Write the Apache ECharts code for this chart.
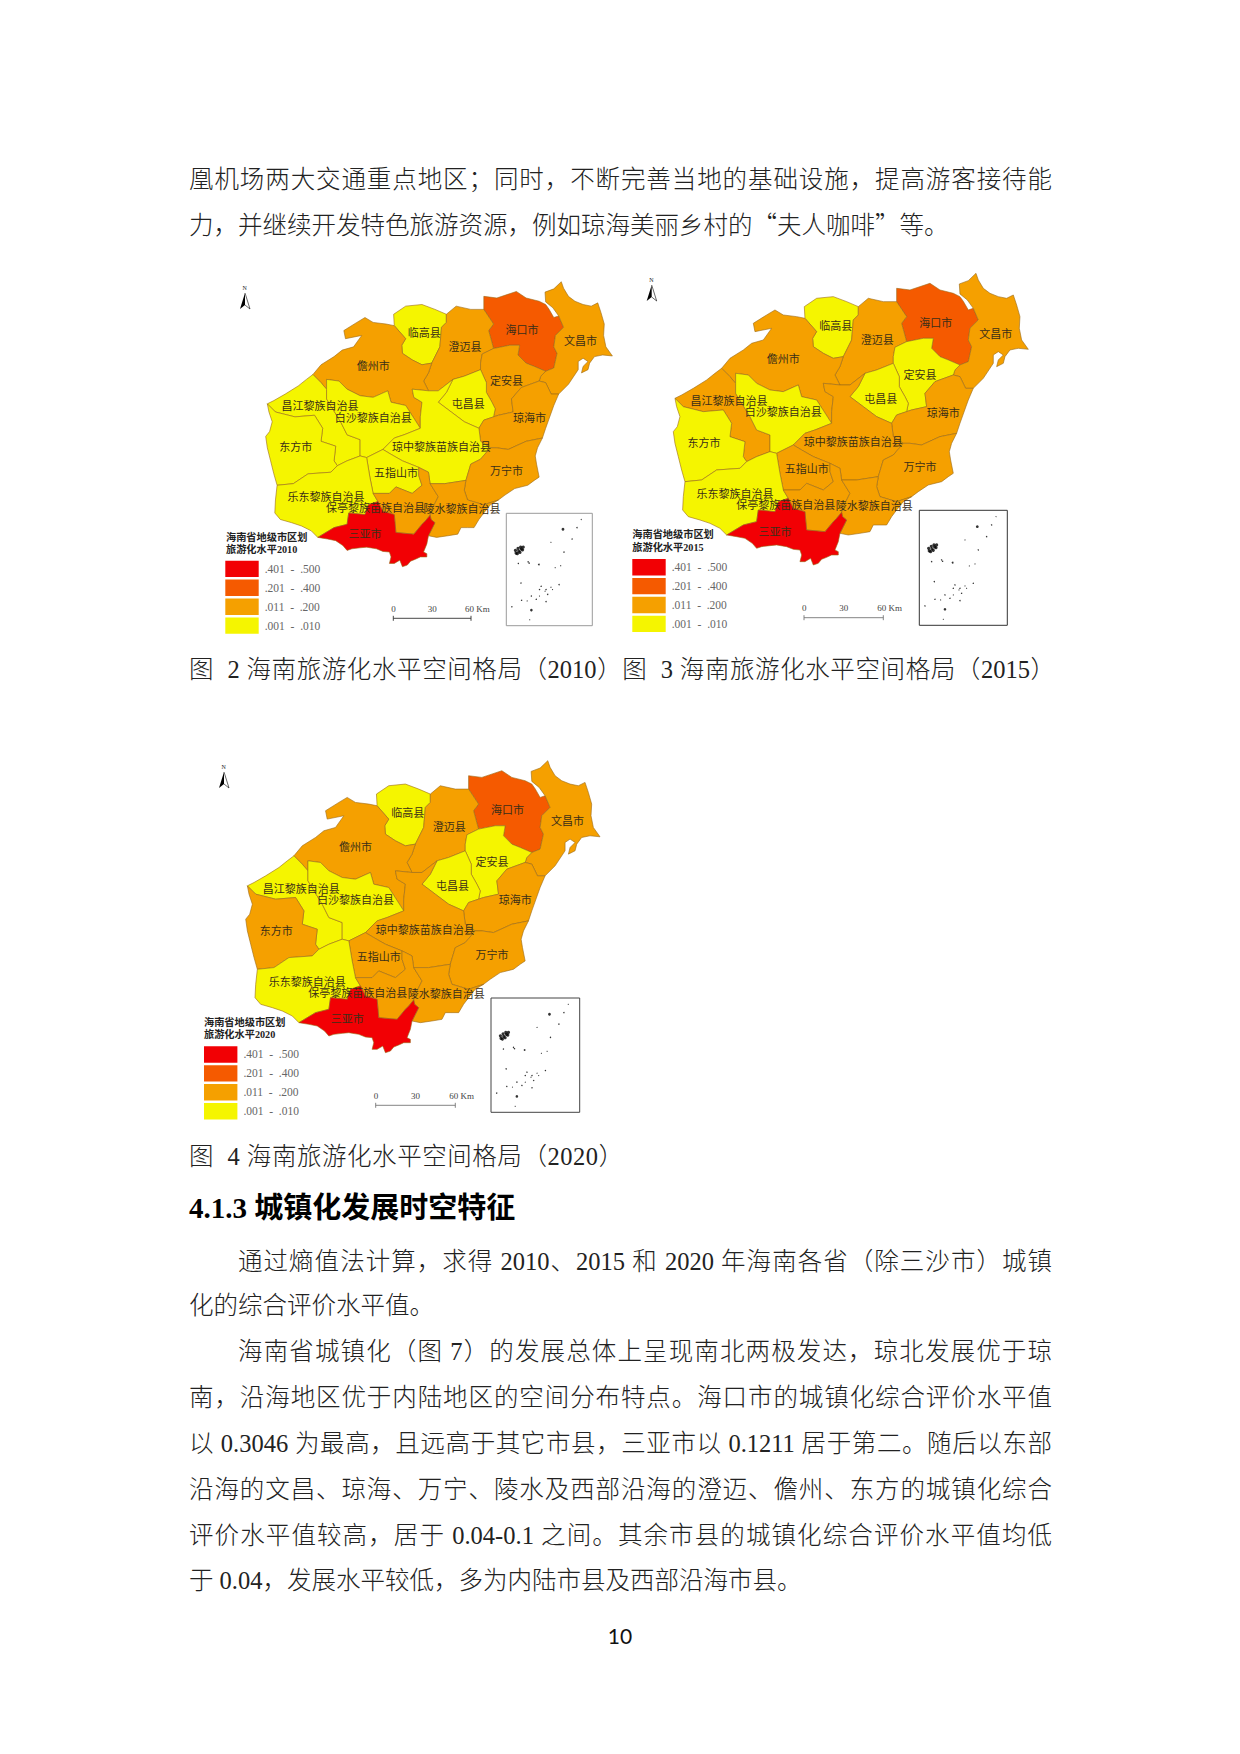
<!DOCTYPE html>
<html lang="zh-CN">
<head>
<meta charset="utf-8">
<title>海南旅游化水平空间格局</title>
<script src="https://cdn.jsdelivr.net/npm/echarts@6/dist/echarts.min.js"></script>
<style>
  html, body { margin: 0; padding: 0; background: #fff; }
  #page { position: relative; width: 1240px; height: 1754px; overflow: hidden; }
  #chart { position: absolute; left: 0; top: 0; width: 1240px; height: 1754px; }
  .line {
    position: absolute; left: 189px; width: 863px; height: 34px; line-height: 34px;
    font-family: "Liberation Serif", "Noto Sans CJK SC", serif; font-size: 24.5px; font-weight: 300; color: #222;
    white-space: nowrap;
  }
  .fill { white-space: normal; text-align: justify; text-align-last: justify; }
  .indent { left: 238px; width: 814px; }
  .head { font-size: 29px; font-weight: bold; color: #000; }
  .num { font-family: Lato, sans-serif; font-size: 21px; font-weight: 400; left: 0; width: 1240px; text-align: center; color: #111; }
  .cjk { font-family: "Noto Sans CJK SC", sans-serif; }
</style>
</head>
<body>
<div id="page">
  <div id="chart"></div>
  <div class="line fill" style="top:163px">凰机场两大交通重点地区；同时，不断完善当地的基础设施，提高游客接待能</div>
  <div class="line" style="top:207px">力，并继续开发特色旅游资源，例如琼海美丽乡村的<span class="cjk">“</span>夫人咖啡<span class="cjk">”</span>等。</div>
  <div class="line fill" style="top:653px;width:866px">图&nbsp; 2 海南旅游化水平空间格局（2010）图&nbsp; 3 海南旅游化水平空间格局（2015）</div>
  <div class="line" style="top:1140px;letter-spacing:.55px">图&nbsp; 4 海南旅游化水平空间格局（2020）</div>
  <div class="line head" style="top:1191px">4.1.3 城镇化发展时空特征</div>
  <div class="line fill indent" style="top:1245px">通过熵值法计算，求得 2010、2015 和 2020 年海南各省（除三沙市）城镇</div>
  <div class="line" style="top:1289px">化的综合评价水平值。</div>
  <div class="line fill indent" style="top:1335px">海南省城镇化（图 7）的发展总体上呈现南北两极发达，琼北发展优于琼</div>
  <div class="line fill" style="top:1381px">南，沿海地区优于内陆地区的空间分布特点。海口市的城镇化综合评价水平值</div>
  <div class="line fill" style="top:1427px">以 0.3046 为最高，且远高于其它市县，三亚市以 0.1211 居于第二。随后以东部</div>
  <div class="line fill" style="top:1473px">沿海的文昌、琼海、万宁、陵水及西部沿海的澄迈、儋州、东方的城镇化综合</div>
  <div class="line fill" style="top:1519px">评价水平值较高，居于 0.04-0.1 之间。其余市县的城镇化综合评价水平值均低</div>
  <div class="line" style="top:1564px">于 0.04，发展水平较低，多为内陆市县及西部沿海市县。</div>
  <div class="line num" style="top:1619px">10</div>
</div>
<script>
/*
 * 数据：市县名称与各年份旅游化水平（从图上按分级估读）
 */
const regionNames = ['海口市', '文昌市', '临高县', '澄迈县', '儋州市', '定安县', '屯昌县', '琼海市', '昌江黎族自治县',
  '白沙黎族自治县', '东方市', '琼中黎族苗族自治县', '万宁市', '五指山市', '乐东黎族自治县', '保亭黎族苗族自治县', '陵水黎族自治县', '三亚市'];
const level2010 = [0.30, 0.10, 0.008, 0.10, 0.10, 0.10, 0.008, 0.10, 0.008, 0.008, 0.008, 0.008, 0.10, 0.008, 0.008, 0.10, 0.10, 0.45];
const level2015 = [0.30, 0.10, 0.008, 0.10, 0.10, 0.008, 0.008, 0.10, 0.10, 0.008, 0.008, 0.10, 0.10, 0.10, 0.008, 0.10, 0.10, 0.45];
const level2020 = [0.30, 0.10, 0.008, 0.10, 0.10, 0.008, 0.008, 0.10, 0.008, 0.008, 0.10, 0.10, 0.10, 0.10, 0.008, 0.10, 0.10, 0.45];
const classLabels = ['.401  -  .500', '.201  -  .400', '.011  -  .200', '.001  -  .010'];
const classMin = [0.401, 0.201, 0.011, 0.001];
const classMax = [0.5, 0.4, 0.2, 0.01];
const classColors = ['#f20004', '#f55a00', '#f5a000', '#f5f500'];

// 南海诸岛小图上的岛礁点（x, y, 点大小）
const islandDots = [[230, 19, 1.1], [217, 44, 1.4], [174, 49, 2.8], [202, 79, 1.4], [137, 89, 1.1], [177, 119, 1.4],
  [30, 122, 3.2], [38, 116, 3.2], [46, 110, 3.2], [52, 104, 3.2], [28, 114, 3.2], [36, 108, 3.2], [44, 104, 3.2], [34, 124, 3.2], [42, 120, 3.2], [50, 112, 3.2],
  [37, 154, 1.4], [67, 149, 1.4], [70, 153, 1.4], [100, 157, 1.8],
  [167, 161, 1.1], [150, 167, 1.1], [45, 214, 1.4], [162, 219, 1.4], [137, 227, 1.1], [122, 234, 1.4], [102, 234, 1.4], [107, 224, 1.4],
  [77, 254, 1.4], [102, 254, 1.1], [127, 249, 1.4], [47, 267, 1.4], [64, 269, 1.1], [92, 264, 1.4], [122, 271, 1.4],
  [17, 287, 1.4], [77, 297, 2.6], [72, 327, 1.1], [119, 239, 1.1], [142, 234, 1.1]];

// 市县边界（描自 2015 年图，单位为裁剪图像素）
const regionShapes = {
  '临高县': [[555,175],[553,140],[590,115],[640,110],[680,125],[715,140],[715,165],[700,180],[695,240],[670,290],[640,295],[610,280],[580,260],[578,235],[590,215]],
  '儋州市': [[305,325],[330,295],[370,270],[395,250],[430,240],[455,205],[405,215],[400,190],[440,165],[465,150],[490,165],[530,170],[555,175],[590,215],[578,235],[580,260],[610,280],[640,295],[670,290],[660,320],[645,345],[660,375],[610,370],[615,395],[640,410],[635,455],[635,490],[590,420],[545,410],[535,375],[490,395],[450,390],[410,370],[385,345],[347,340],[347,370],[330,350]],
  '昌江黎族自治县': [[305,325],[330,350],[347,370],[347,400],[390,470],[410,510],[450,525],[450,575],[410,590],[380,605],[370,590],[375,545],[330,530],[335,490],[310,450],[250,455],[190,440],[165,415],[185,405],[220,385],[260,360],[285,340]],
  '白沙黎族自治县': [[347,340],[385,345],[410,370],[450,390],[490,395],[535,375],[545,410],[590,420],[635,490],[585,510],[555,520],[520,555],[470,580],[450,575],[450,525],[410,510],[390,470],[347,400],[347,370]],
  '东方市': [[165,415],[190,440],[250,455],[310,450],[335,490],[330,530],[375,545],[370,590],[380,605],[360,625],[290,630],[245,660],[195,665],[185,630],[175,590],[165,550],[160,515],[172,500],[180,470],[170,440]],
  '乐东黎族自治县': [[195,665],[245,660],[290,630],[360,625],[380,605],[410,590],[450,575],[470,580],[480,640],[490,690],[505,715],[475,725],[465,755],[415,750],[410,785],[370,795],[320,825],[300,805],[270,790],[240,780],[205,770],[188,750],[190,710]],
  '三亚市': [[320,825],[370,795],[410,785],[415,750],[465,755],[475,725],[505,715],[520,745],[555,755],[560,810],[615,815],[640,785],[650,775],[665,757],[668,770],[680,780],[670,800],[660,820],[655,845],[645,870],[655,875],[655,885],[635,885],[620,892],[605,898],[595,910],[580,915],[572,895],[555,905],[540,905],[545,885],[540,870],[520,868],[500,860],[470,855],[450,857],[425,860],[410,865],[397,850],[375,835],[350,830]],
  '五指山市': [[470,580],[520,555],[545,570],[580,590],[630,610],[630,635],[640,665],[610,690],[560,670],[540,690],[490,690],[480,640]],
  '保亭黎族苗族自治县': [[490,690],[540,690],[560,670],[610,690],[640,665],[630,635],[630,610],[660,625],[665,660],[690,700],[670,740],[665,757],[650,775],[640,785],[615,815],[560,810],[555,755],[520,745],[505,715]],
  '陵水黎族自治县': [[665,757],[670,740],[690,700],[665,660],[710,660],[775,650],[770,680],[780,710],[830,725],[875,710],[850,725],[830,750],[815,770],[800,795],[780,795],[760,795],[750,815],[720,820],[685,825],[660,820],[670,800],[680,780],[668,770]],
  '琼中黎族苗族自治县': [[610,370],[660,375],[690,375],[735,340],[715,380],[690,410],[730,440],[770,470],[815,490],[820,530],[850,550],[820,585],[790,600],[775,650],[710,660],[665,660],[660,625],[630,610],[580,590],[545,570],[520,555],[555,520],[585,510],[635,490],[635,455],[640,410],[615,395]],
  '万宁市': [[850,550],[870,550],[905,555],[960,530],[1010,520],[995,550],[988,575],[992,600],[1000,640],[985,650],[965,665],[925,675],[895,695],[875,710],[830,725],[780,710],[770,680],[775,650],[790,600],[820,585]],
  '琼海市': [[1000,345],[1020,350],[1037,385],[1060,385],[1045,420],[1020,490],[1010,520],[960,530],[905,555],[870,550],[850,550],[820,530],[815,490],[830,465],[860,455],[875,450],[920,440],[915,400],[945,365]],
  '屯昌县': [[735,340],[770,330],[820,310],[838,350],[838,380],[855,410],[865,430],[860,455],[830,465],[815,490],[770,470],[730,440],[690,410],[715,380]],
  '定安县': [[860,245],[910,235],[940,235],[935,265],[960,290],[985,300],[1020,315],[1005,330],[1000,345],[945,365],[915,400],[920,440],[875,450],[860,455],[865,430],[855,410],[838,380],[838,350],[820,310],[820,290],[825,262]],
  '澄迈县': [[715,140],[745,115],[790,125],[830,125],[860,170],[845,190],[860,245],[825,262],[820,290],[820,310],[770,330],[735,340],[690,375],[660,375],[645,345],[660,320],[670,290],[695,240],[700,180],[715,165]],
  '海口市': [[830,125],[830,85],[870,90],[930,70],[960,90],[1000,100],[1020,110],[1030,124],[1045,150],[1060,145],[1075,180],[1050,205],[1045,240],[1055,260],[1045,305],[1020,315],[985,300],[960,290],[935,265],[940,235],[910,235],[860,245],[845,190],[860,170]],
  '文昌市': [[1060,145],[1042,120],[1020,102],[1018,72],[1045,62],[1068,40],[1075,60],[1090,85],[1110,100],[1135,110],[1160,115],[1180,105],[1190,135],[1200,170],[1198,205],[1205,240],[1225,268],[1195,265],[1170,270],[1155,290],[1150,310],[1130,320],[1135,300],[1150,285],[1135,275],[1120,285],[1120,310],[1090,355],[1060,385],[1037,385],[1020,350],[1000,345],[1005,330],[1020,315],[1045,305],[1055,260],[1045,240],[1050,205],[1075,180]]
};
// 标注位置
const labelPoints = {
  '海口市': [947,188], '文昌市': [1127,222], '临高县': [647,197], '澄迈县': [772,240], '儋州市': [490,298], '定安县': [900,345],
  '屯昌县': [782,416], '琼海市': [970,458], '昌江黎族自治县': [327,423], '白沙黎族自治县': [490,457], '东方市': [252,549],
  '琼中黎族苗族自治县': [700,547], '万宁市': [900,622], '五指山市': [560,627], '乐东黎族自治县': [345,702],
  '保亭黎族苗族自治县': [497,735], '陵水黎族自治县': [763,738], '三亚市': [465,815]
};

// 三幅图在页面上的位置
const panels = [
  { year: '2010', values: level2010, map: { left: 265.7, top: 281.7, width: 346.7, height: 285 }, inset: [506.3, 513.3, 86, 112.4, '#9a9a9a'],
    legend: [225.3, 560.7], title: [226, 537], bar: [393.3, 471, 618.3], barColor: '#333', north: [245, 289] },
  { year: '2015', values: level2015, map: { left: 673.3, top: 273.3, width: 355, height: 291.7 }, inset: [919.3, 510.3, 88, 115, '#333'],
    legend: [632.3, 559], title: [632.3, 534.5], bar: [804, 883.3, 617.7], barColor: '#777', north: [651.7, 281] },
  { year: '2020', values: level2020, map: { left: 245.7, top: 760.7, width: 354.3, height: 292 }, inset: [491, 998, 88.7, 114.3, '#444'],
    legend: [204, 1046.3], title: [204, 1022], bar: [375.7, 455.3, 1105.3], barColor: '#777', north: [224, 768] }
];

const FONT = '"Liberation Serif", "Noto Sans CJK SC", serif';

/**
 * 由边界点生成 geoJSON（纬度方向与像素方向相反）
 */
function buildGeoJson() {
  return {
    type: 'FeatureCollection',
    features: regionNames.map(function(name) {
      const ring = regionShapes[name].map(function(p) { return [p[0], -p[1]]; });
      ring.push(ring[0]);
      return {
        type: 'Feature',
        properties: { name: name, cp: [labelPoints[name][0], -labelPoints[name][1]] },
        geometry: { type: 'Polygon', coordinates: [ring] }
      };
    })
  };
}

function mapSeries(panel) {
  return Object.assign({
    type: 'map',
    map: 'hainan' + panel.year,
    aspectScale: 1,
    silent: true,
    selectedMode: false,
    animation: false,
    itemStyle: { borderColor: '#9a6a18', borderWidth: 0.6 },
    label: { show: true, fontSize: 11, color: '#3a2e18', fontFamily: FONT },
    emphasis: { disabled: true },
    data: regionNames.map(function(name, i) { return { name: name, value: panel.values[i] }; })
  }, panel.map);
}

function legendOf(panel, i) {
  return {
    type: 'piecewise',
    seriesIndex: i,
    orient: 'vertical',
    align: 'left',
    padding: 0,
    left: panel.legend[0],
    top: panel.legend[1],
    itemWidth: 33.4,
    itemHeight: 16.4,
    itemGap: 2.5,
    itemSymbol: 'rect',
    textGap: 6,
    selectedMode: false,
    hoverLink: false,
    textStyle: { fontSize: 11.5, color: '#666', fontFamily: FONT },
    pieces: classLabels.map(function(label, k) {
      return { min: classMin[k], max: classMax[k], label: label, color: classColors[k] };
    })
  };
}

// 图名、比例尺、指北针
function decorations(panel) {
  const text = function(x, y, str, size, color, weight) {
    return { type: 'text', silent: true, x: x, y: y,
      style: { text: str, fontSize: size, fill: color, fontFamily: FONT, fontWeight: weight || 'normal', verticalAlign: 'middle' } };
  };
  const n = panel.north;
  const b = panel.bar;
  return [
    text(panel.title[0], panel.title[1], '海南省地级市区划', 10.2, '#222', 'bold'),
    text(panel.title[0], panel.title[1] + 12.5, '旅游化水平' + panel.year, 10.2, '#222', 'bold'),
    text(n[0] - 2.5, n[1] - 1, 'N', 6, '#222'),
    { type: 'polygon', silent: true, shape: { points: [[n[0], n[1] + 4], [n[0] - 5, n[1] + 20], [n[0], n[1] + 16]] }, style: { fill: '#000' } },
    { type: 'polyline', silent: true, shape: { points: [[n[0], n[1] + 4], [n[0] + 5, n[1] + 20], [n[0], n[1] + 16]] }, style: { fill: 'none', stroke: '#000', lineWidth: 0.6 } },
    { type: 'line', silent: true, shape: { x1: b[0], y1: b[2], x2: b[1], y2: b[2] }, style: { stroke: panel.barColor, lineWidth: 0.9 } },
    { type: 'line', silent: true, shape: { x1: b[0], y1: b[2] - 2.5, x2: b[0], y2: b[2] + 2.5 }, style: { stroke: panel.barColor, lineWidth: 0.9 } },
    { type: 'line', silent: true, shape: { x1: b[1], y1: b[2] - 2.5, x2: b[1], y2: b[2] + 2.5 }, style: { stroke: panel.barColor, lineWidth: 0.9 } },
    text(b[0] - 2, b[2] - 9.5, '0', 9, '#444'),
    text((b[0] + b[1]) / 2 - 4.5, b[2] - 9.5, '30', 9, '#444'),
    text(b[1] - 6, b[2] - 9.5, '60 Km', 9, '#444')
  ];
}

function initPage() {
  const geoJson = buildGeoJson();
  panels.forEach(function(panel) { echarts.registerMap('hainan' + panel.year, geoJson); });

  const grids = panels.map(function(panel) {
    return { show: true, left: panel.inset[0], top: panel.inset[1], width: panel.inset[2], height: panel.inset[3],
      borderColor: panel.inset[4], borderWidth: 1, backgroundColor: '#fff' };
  });
  const axisBase = { show: false, type: 'value', min: 0, splitLine: { show: false } };
  const insetSeries = panels.map(function(panel, i) {
    return { type: 'scatter', xAxisIndex: i, yAxisIndex: i, silent: true, animation: false,
      data: islandDots, symbolSize: function(v) { return v[2]; }, itemStyle: { color: '#000' } };
  });

  const myEchart = echarts.init(document.getElementById('chart'), null, { renderer: 'svg' });
  myEchart.setOption({
    animation: false,
    tooltip: { show: false },
    grid: grids,
    xAxis: panels.map(function(p, i) { return Object.assign({ gridIndex: i, max: 264 }, axisBase); }),
    yAxis: panels.map(function(p, i) { return Object.assign({ gridIndex: i, max: 345, inverse: true }, axisBase); }),
    visualMap: panels.map(legendOf),
    series: panels.map(mapSeries).concat(insetSeries),
    graphic: { elements: panels.reduce(function(all, panel) { return all.concat(decorations(panel)); }, []) }
  });
  return myEchart;
}

initPage();
</script>
</body>
</html>
